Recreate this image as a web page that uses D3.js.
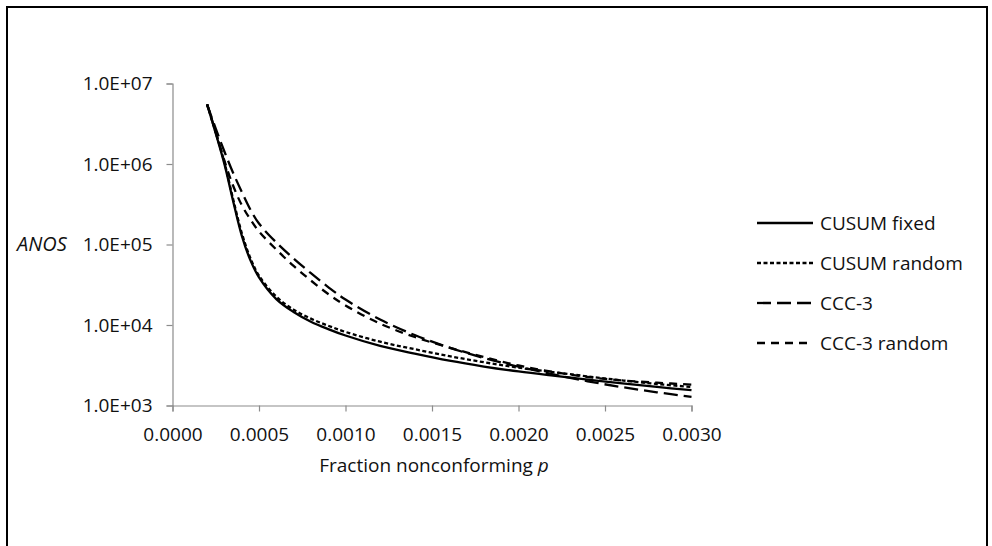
<!DOCTYPE html>
<html>
<head>
<meta charset="utf-8">
<script src="https://cdn.jsdelivr.net/npm/d3@7"></script>
<style>
  body { margin: 0; background: #fff; }
  text { font-family: "Open Sans", sans-serif; fill: #111; }
</style>
</head>
<body>
<div id="chart"></div>
<script>
document.addEventListener('DOMContentLoaded', () => {

  const width = 992;
  const height = 546;

  // fraction nonconforming p
  const pValues = [0.0002, 0.00025, 0.0003, 0.00035, 0.0004, 0.00045, 0.0005, 0.0006, 0.0007,
                   0.0008, 0.0009, 0.0010, 0.0012, 0.0014, 0.0016, 0.0018, 0.0020, 0.0022,
                   0.0024, 0.0026, 0.0028, 0.0030];

  const cusumFixed  = [5.5e6, 2.4e6, 1.0e6, 3.5e5, 1.3e5, 6.4e4, 3.9e4, 2.1e4, 1.45e4,
                       1.1e4, 8.9e3, 7.4e3, 5.5e3, 4.4e3, 3.6e3, 3.05e3, 2.65e3, 2.35e3,
                       2.1e3, 1.88e3, 1.7e3, 1.55e3];
  const cusumRandom = [5.5e6, 2.45e6, 1.05e6, 3.7e5, 1.4e5, 6.8e4, 4.1e4, 2.25e4, 1.55e4,
                       1.2e4, 9.8e3, 8.2e3, 6.2e3, 5.0e3, 4.1e3, 3.45e3, 2.95e3, 2.6e3,
                       2.3e3, 2.05e3, 1.85e3, 1.7e3];
  const ccc3        = [5.5e6, 2.75e6, 1.43e6, 7.8e5, 4.53e5, 2.72e5, 1.82e5, 1.06e5, 6.7e4,
                       4.4e4, 2.96e4, 2.07e4, 1.17e4, 7.5e3, 5.24e3, 3.89e3, 3.03e3, 2.44e3,
                       2.0e3, 1.69e3, 1.46e3, 1.28e3];
  const ccc3Random  = [5.5e6, 2.5e6, 1.1e6, 5.4e5, 3.1e5, 2.05e5, 1.45e5, 8.67e4, 5.41e4,
                       3.57e4, 2.43e4, 1.75e4, 1.04e4, 7.1e3, 5.25e3, 4.0e3, 3.14e3, 2.61e3,
                       2.26e3, 2.05e3, 1.92e3, 1.82e3];

  const seriesNames = ['CUSUM fixed', 'CUSUM random', 'CCC-3', 'CCC-3 random'];
  const xTicks = [0, 0.0005, 0.0010, 0.0015, 0.0020, 0.0025, 0.0030];
  const yTicks = [1e3, 1e4, 1e5, 1e6, 1e7];

  const series = [
    { name: seriesNames[0], values: cusumFixed,  dash: null },
    { name: seriesNames[1], values: cusumRandom, dash: '4,2.5' },
    { name: seriesNames[2], values: ccc3,        dash: '14,6' },
    { name: seriesNames[3], values: ccc3Random,  dash: '8,6' }
  ];

  const svg = d3.select('#chart')
                .append('svg')
                .attr('width', width)
                .attr('height', height);

  // outer frame
  svg.append('rect')
     .attr('x', 7)
     .attr('y', 7)
     .attr('width', 980)
     .attr('height', 580)
     .attr('fill', 'none')
     .attr('stroke', '#000')
     .attr('stroke-width', 2);

  const x = d3.scaleLinear()
              .domain([0, 0.003])
              .range([172.5, 691.5]);

  const y = d3.scaleLog()
              .domain([1e3, 1e7])
              .range([405.5, 83.5]);

  const axisColor = '#8c8c8c';
  const fontSize = '19px';

  const xAxis = svg.append('g')
                   .attr('transform', 'translate(0,' + y(1e3) + ')')
                   .call(d3.axisBottom(x)
                           .tickValues(xTicks)
                           .tickSize(6)
                           .tickPadding(16)
                           .tickFormat(d3.format('.4f')));

  const yAxis = svg.append('g')
                   .attr('transform', 'translate(' + x(0) + ',0)')
                   .call(d3.axisLeft(y)
                           .tickValues(yTicks)
                           .tickSize(6)
                           .tickPadding(14)
                           .tickFormat((d) => '1.0E+0' + Math.round(Math.log10(d))));

  [xAxis, yAxis].forEach((ax) => {
    ax.select('.domain').attr('stroke', axisColor).attr('stroke-width', 1.2);
    ax.selectAll('.tick line').attr('stroke', axisColor).attr('stroke-width', 1.2);
    ax.selectAll('.tick text')
      .style('font-family', '"Open Sans", sans-serif')
      .style('font-size', fontSize)
      .attr('fill', '#111');
  });

  const line = d3.line()
                 .x((d) => x(d.p))
                 .y((d) => y(d.v))
                 .curve(d3.curveCatmullRom.alpha(0.5));

  svg.append('g')
     .selectAll('path')
     .data(series)
     .enter()
     .append('path')
     .attr('d', (s) => line(pValues.map((p, i) => ({ p: p, v: s.values[i] }))))
     .attr('fill', 'none')
     .attr('stroke', '#000')
     .attr('stroke-width', 2.3)
     .attr('stroke-dasharray', (s) => s.dash);

  // axis titles
  svg.append('text')
     .attr('x', 17)
     .attr('y', 251)
     .style('font-size', '20px')
     .style('font-style', 'italic')
     .text('ANOS');

  const xTitle = svg.append('text')
                    .attr('x', 434)
                    .attr('y', 472)
                    .attr('text-anchor', 'middle')
                    .style('font-size', fontSize);
  xTitle.append('tspan').text('Fraction nonconforming ');
  xTitle.append('tspan').style('font-style', 'italic').text('p');

  // legend
  const legendItem = svg.selectAll('.legend-item')
                        .data(series)
                        .enter()
                        .append('g')
                        .attr('class', 'legend-item')
                        .attr('transform', (d, i) => 'translate(757,' + (223 + i * 40) + ')');

  legendItem.append('line')
            .attr('x1', 0)
            .attr('x2', 56)
            .attr('stroke', '#000')
            .attr('stroke-width', 2.3)
            .attr('stroke-dasharray', (d) => d.dash);

  legendItem.append('text')
            .attr('x', 63)
            .attr('dy', '0.35em')
            .style('font-size', fontSize)
            .text((d) => d.name);

});
</script>
</body>
</html>
